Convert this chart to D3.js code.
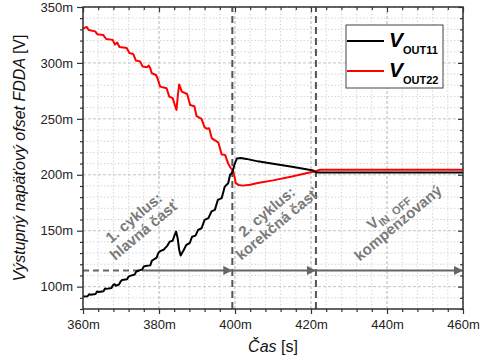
<!DOCTYPE html>
<html>
<head>
<meta charset="utf-8">
<script src="https://cdn.jsdelivr.net/npm/d3@7"></script>
<style>
  body { margin: 0; background: #fff; }
  svg { display: block; font-family: "Liberation Sans", Arial, sans-serif; }
</style>
</head>
<body>
<svg width="480" height="360"></svg>
<script>
// Time axis ticks [ms] and offset axis ticks [mV]
const timeTicks = [360, 380, 400, 420, 440, 460];
const offsetTicks = [100, 150, 200, 250, 300, 350];

// V_OUT11 output offset [time ms, offset mV]
const vout11 = [
  [360.0, 91.2], [361.2, 91.4], [361.6, 93.2], [362.0, 92.8], [363.3, 93.4], [363.7, 95.6],
  [364.1, 95.2], [365.4, 95.8], [365.8, 98.4], [366.2, 98.0], [367.5, 98.8], [367.9, 101.4],
  [368.3, 102.2], [368.7, 100.8], [369.5, 102.0], [369.9, 104.6], [370.3, 106.0], [371.6, 106.6],
  [372.0, 109.0], [372.4, 109.6], [373.6, 110.8], [374.0, 113.4], [374.4, 114.0], [375.6, 115.4],
  [376.0, 118.0], [376.4, 118.4], [377.7, 119.0], [378.1, 123.0], [378.5, 124.0], [379.4, 126.0],
  [379.8, 130.0], [380.3, 131.8], [381.2, 133.0], [382.1, 136.2], [382.8, 140.2], [383.6, 141.0],
  [384.1, 146.0], [384.5, 149.2], [384.9, 143.5], [385.3, 133.2], [385.7, 127.8], [386.4, 132.0],
  [387.2, 137.4], [388.1, 139.0], [388.7, 144.6], [389.6, 145.6], [390.3, 150.8], [391.2, 152.2],
  [392.0, 159.6], [393.0, 161.2], [393.8, 167.2], [394.7, 168.6], [395.5, 177.6], [396.5, 179.2],
  [397.3, 189.4], [398.2, 192.4], [398.7, 199.8], [399.3, 202.0], [399.9, 209.6], [400.5, 214.6],
  [401.5, 215.0], [403.0, 214.2], [406.0, 212.0], [410.0, 209.8], [415.0, 207.2], [418.0, 205.4],
  [420.6, 203.8], [421.2, 202.3], [422.0, 202.0], [460.0, 202.0]
];

// V_OUT22 output offset [time ms, offset mV]
const vout22 = [
  [360.0, 330.6], [360.5, 331.6], [361.0, 332.2], [361.5, 329.4], [363.2, 328.2], [363.8, 325.6],
  [365.3, 325.0], [366.1, 321.4], [367.8, 320.6], [368.4, 316.4], [369.0, 318.2], [369.6, 314.2],
  [371.5, 313.4], [372.2, 308.8], [373.2, 308.0], [373.9, 302.2], [375.0, 301.4], [375.7, 296.8],
  [376.8, 296.2], [377.3, 297.6], [377.7, 295.2], [378.1, 290.8], [379.2, 289.2], [379.6, 286.3],
  [380.3, 278.8], [382.0, 277.4], [382.7, 269.9], [383.6, 268.5], [384.2, 262.0], [384.6, 258.0],
  [385.0, 272.0], [385.3, 280.8], [386.0, 274.4], [387.4, 272.2], [388.2, 262.4], [389.3, 261.2],
  [389.9, 252.4], [391.2, 250.0], [392.0, 242.4], [392.6, 241.2], [393.2, 241.6], [393.9, 232.6],
  [395.6, 229.0], [396.5, 218.2], [397.4, 217.8], [398.2, 210.0], [398.8, 206.4], [399.4, 204.4],
  [399.8, 199.0], [400.2, 192.6], [401.0, 190.8], [402.0, 190.3], [404.0, 191.0], [406.0, 192.6],
  [410.0, 195.0], [415.0, 198.5], [419.0, 201.5], [421.0, 203.0], [422.4, 204.5], [460.0, 204.5]
];

// Cycle boundaries [ms] and the level of the cycle arrows [mV]
const cycleEdges = [360, 399.3, 421.3, 460];
const arrowLevel = 114.5;
const arrowDashedUntil = 375.5;

// Cycle annotations
const cycle1Lines = ["1. cyklus:", "hlavná časť"];
const cycle2Lines = ["2. cyklus:", "korekčná časť"];
const cycle3Sub = "IN_OFF";
const cycle3Line2 = "kompenzovaný";

const seriesNames = ["OUT11", "OUT22"];
const seriesColors = ["#000000", "#ff0000"];

const svg = d3.select("svg");
const x = d3.scaleLinear().domain([360, 460]).range([83, 463]);
const y = d3.scaleLinear().domain([80, 350]).range([309, 7]);

const xMinor = d3.range(360, 461, 4).filter(v => !timeTicks.includes(v));
const yMinor = d3.range(80, 351, 10).filter(v => !offsetTicks.includes(v));

// grid
const grid = svg.append("g");
grid.selectAll(".gxm").data(xMinor).join("line")
  .attr("x1", d => x(d)).attr("x2", d => x(d)).attr("y1", y(80)).attr("y2", y(350))
  .attr("stroke", "#d6d6d6").attr("stroke-width", 1).attr("stroke-dasharray", "1.5,2");
grid.selectAll(".gym").data(yMinor).join("line")
  .attr("y1", d => y(d)).attr("y2", d => y(d)).attr("x1", x(360)).attr("x2", x(460))
  .attr("stroke", "#d6d6d6").attr("stroke-width", 1).attr("stroke-dasharray", "1.5,2");
grid.selectAll(".gxM").data(timeTicks).join("line")
  .attr("x1", d => x(d)).attr("x2", d => x(d)).attr("y1", y(80)).attr("y2", y(350))
  .attr("stroke", "#b4b4b4").attr("stroke-width", 1).attr("stroke-dasharray", "3,2");
grid.selectAll(".gyM").data(offsetTicks).join("line")
  .attr("y1", d => y(d)).attr("y2", d => y(d)).attr("x1", x(360)).attr("x2", x(460))
  .attr("stroke", "#c4c4c4").attr("stroke-width", 1).attr("stroke-dasharray", "3,2");

// cycle boundary markers
svg.append("g").selectAll("line").data(cycleEdges.slice(1, 3)).join("line")
  .attr("x1", d => x(d)).attr("x2", d => x(d)).attr("y1", y(80)).attr("y2", y(350))
  .attr("stroke", "#555").attr("stroke-width", 2).attr("stroke-dasharray", "7,4");

// arrows
const defs = svg.append("defs");
defs.append("marker").attr("id", "ah").attr("viewBox", "0 0 10 10")
  .attr("refX", 10).attr("refY", 5).attr("markerWidth", 10).attr("markerHeight", 9)
  .attr("markerUnits", "userSpaceOnUse").attr("orient", "auto")
  .append("path").attr("d", "M0,0L10,5L0,10z").attr("fill", "#666");

const arrows = svg.append("g").attr("stroke", "#666").attr("stroke-width", 2);
arrows.append("line")
  .attr("x1", x(cycleEdges[0])).attr("x2", x(arrowDashedUntil))
  .attr("y1", y(arrowLevel)).attr("y2", y(arrowLevel)).attr("stroke-dasharray", "6,4");
const arrowSegs = [[arrowDashedUntil, cycleEdges[1]], [cycleEdges[1], cycleEdges[2]], [cycleEdges[2], cycleEdges[3]]];
arrows.selectAll(".seg").data(arrowSegs).join("line")
  .attr("x1", d => x(d[0])).attr("x2", d => x(d[1]))
  .attr("y1", y(arrowLevel)).attr("y2", y(arrowLevel))
  .attr("marker-end", "url(#ah)");

// annotations
function rotatedBlock(cx, cy, lines) {
  const g = svg.append("g").attr("transform", `translate(${cx},${cy}) rotate(-40)`)
    .attr("fill", "#7a7a7a").attr("font-weight", "bold").attr("font-size", 15)
    .attr("text-anchor", "middle");
  lines.forEach((t, i) => g.append("text").attr("y", (i - 0.5) * 16 + 5).text(t));
  return g;
}
rotatedBlock(139, 224, cycle1Lines);
rotatedBlock(272, 218, cycle2Lines);
const g3 = svg.append("g").attr("transform", `translate(393,217) rotate(-40)`)
  .attr("fill", "#7a7a7a").attr("font-weight", "bold").attr("font-size", 15)
  .attr("text-anchor", "middle");
const t3 = g3.append("text").attr("y", -8 + 5);
t3.append("tspan").text("V");
t3.append("tspan").attr("font-size", 11).attr("dy", 4).text(cycle3Sub);
g3.append("text").attr("y", 8 + 5).text(cycle3Line2);

// series
const line = d3.line().x(d => x(d[0])).y(d => y(d[1]));
svg.append("path").datum(vout22).attr("d", line)
  .attr("fill", "none").attr("stroke", seriesColors[1]).attr("stroke-width", 2).attr("stroke-linejoin", "round");
svg.append("path").datum(vout11).attr("d", line)
  .attr("fill", "none").attr("stroke", seriesColors[0]).attr("stroke-width", 2).attr("stroke-linejoin", "round");

// axes
function styleAxis(g) {
  g.select(".domain").remove();
  g.selectAll(".tick line").attr("stroke", "#333").attr("stroke-width", 1.2);
  g.selectAll(".tick text").attr("font-size", 13).attr("fill", "#222")
    .attr("font-family", "'Liberation Sans', Arial, sans-serif");
}
svg.append("g").attr("transform", "translate(83,0)")
  .call(d3.axisLeft(y).tickValues(offsetTicks).tickSize(6).tickPadding(4).tickFormat(d => d + "m")).call(styleAxis);
svg.append("g").attr("transform", "translate(83,0)")
  .call(d3.axisLeft(y).tickValues(yMinor).tickSize(3).tickFormat("")).call(styleAxis);
svg.append("g").attr("transform", "translate(0,309)")
  .call(d3.axisBottom(x).tickValues(timeTicks).tickSize(5).tickPadding(6).tickFormat(d => d + "m")).call(styleAxis);
svg.append("g").attr("transform", "translate(0,309)")
  .call(d3.axisBottom(x).tickValues(xMinor).tickSize(3).tickFormat("")).call(styleAxis);
svg.append("g").attr("transform", "translate(0,7)")
  .call(d3.axisTop(x).tickValues(timeTicks).tickSize(-5).tickFormat("")).call(styleAxis);
svg.append("g").attr("transform", "translate(0,7)")
  .call(d3.axisTop(x).tickValues(xMinor).tickSize(-3).tickFormat("")).call(styleAxis);
svg.append("g").attr("transform", "translate(463,0)")
  .call(d3.axisRight(y).tickValues(offsetTicks).tickSize(-5).tickFormat("")).call(styleAxis);
svg.append("g").attr("transform", "translate(463,0)")
  .call(d3.axisRight(y).tickValues(yMinor).tickSize(-3).tickFormat("")).call(styleAxis);

svg.append("rect").attr("x", 83).attr("y", 7).attr("width", 380).attr("height", 302)
  .attr("fill", "none").attr("stroke", "#333").attr("stroke-width", 1.5);

// axis titles
const yt = svg.append("text").attr("transform", "translate(25,158) rotate(-90)")
  .attr("text-anchor", "middle").attr("font-size", 16).attr("fill", "#111");
yt.append("tspan").attr("font-style", "italic").text("Výstupný napäťový ofset FDDA ");
yt.append("tspan").text("[V]");
const xt = svg.append("text").attr("x", 273).attr("y", 352)
  .attr("text-anchor", "middle").attr("font-size", 16).attr("fill", "#111");
xt.append("tspan").attr("font-style", "italic").text("Čas ");
xt.append("tspan").text("[s]");

// legend
const lg = svg.append("g");
lg.append("rect").attr("x", 346).attr("y", 25).attr("width", 97).attr("height", 63)
  .attr("fill", "#fff").attr("stroke", "#444").attr("stroke-width", 1);
const legendRows = [41, 71];
seriesNames.forEach((name, i) => {
  const ly = legendRows[i];
  lg.append("line").attr("x1", 347).attr("x2", 384).attr("y1", ly).attr("y2", ly)
    .attr("stroke", seriesColors[i]).attr("stroke-width", 2);
  const t = lg.append("text").attr("x", 389).attr("y", ly + 6).attr("fill", "#000").attr("font-weight", "bold");
  t.append("tspan").attr("font-size", 21).attr("font-style", "italic").text("V");
  t.append("tspan").attr("font-size", 11).attr("dy", 6.5).attr("dx", 0).text(name);
});
</script>
</body>
</html>
